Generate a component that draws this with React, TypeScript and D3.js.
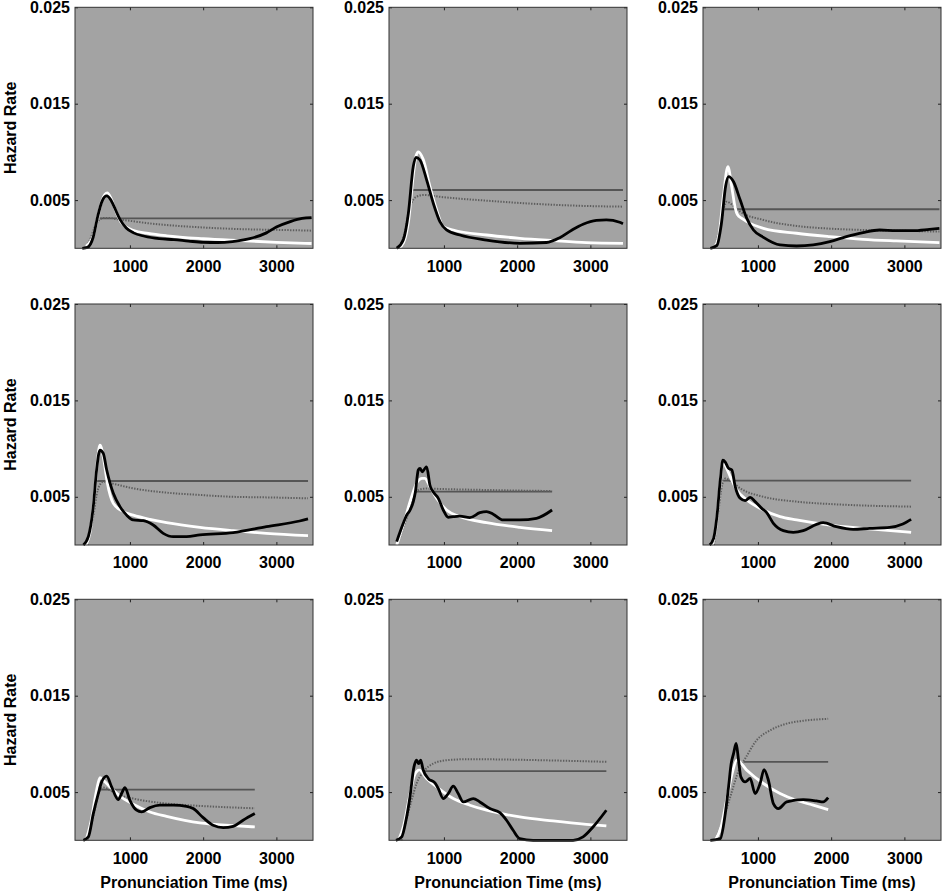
import React, { useEffect, useRef } from "react";
import * as d3 from "d3";

type Pt = [number, number]; // [time ms, hazard x 1e-3]

// ---- panel data (hazard in units of 0.001) ----
const p1Empirical: Pt[] = [[350,0],[420,0.1],[500,1.2],[560,3.3],[620,4.9],[682,5.43],[740,5.0],[773,4.5],[864,3.0],[950,2.1],[1050,1.6],[1200,1.25],[1400,1.0],[1600,0.9],[1800,0.75],[2000,0.62],[2200,0.6],[2400,0.7],[2636,1.0],[2864,1.6],[3000,2.2],[3200,2.8],[3350,3.1],[3480,3.18]];
const p1Fit: Pt[] = [[400,0.2],[500,1.3],[560,3.2],[620,5.0],[690,5.75],[740,5.2],[800,4.0],[870,2.8],[950,2.2],[1050,1.85],[1250,1.55],[1500,1.3],[2000,1.0],[2500,0.8],[3000,0.62],[3480,0.5]];
const p1Dotted: Pt[] = [[380,0],[450,0.8],[520,2.2],[590,3.0],[650,3.15],[720,3.15],[800,3.05],[1000,2.85],[1250,2.6],[1700,2.3],[2150,2.1],[2600,1.97],[3100,1.9],[3480,1.83]];
const p1Flat = [590, 3480, 3.1];

const p2Empirical: Pt[] = [[355,0],[445,0.86],[514,3.6],[582,8.5],[618,9.44],[673,9.16],[764,7.1],[855,4.67],[945,2.77],[1036,1.9],[1218,1.38],[1582,0.86],[2036,0.52],[2400,0.6],[2582,1.1],[2750,1.9],[2900,2.5],[3082,2.9],[3218,2.95],[3400,2.7],[3445,2.55]];
const p2Fit: Pt[] = [[380,0],[450,0.6],[520,3.0],[580,7.5],[620,9.6],[650,10.0],[718,9.2],[809,6.4],[900,4.0],[991,2.25],[1127,1.9],[1582,1.38],[2036,1.04],[2490,0.8],[2945,0.59],[3445,0.52]];
const p2Dotted: Pt[] = [[380,0],[460,1.5],[536,4.3],[627,5.36],[718,5.53],[991,5.3],[1582,4.94],[2264,4.6],[2945,4.39],[3445,4.32]];
const p2Flat = [582, 3445, 6.05];

const p3Empirical: Pt[] = [[350,0],[440,0.3],[500,2.5],[560,6.5],[599,7.43],[667,6.9],[758,5.0],[848,3.1],[939,1.9],[1075,1.14],[1302,0.35],[1528,0.24],[1755,0.35],[1982,0.69],[2208,1.21],[2435,1.63],[2662,1.9],[2888,1.83],[3115,1.83],[3342,1.97],[3478,2.07]];
const p3Fit: Pt[] = [[400,0],[470,1.5],[530,5.5],[590,8.47],[640,6.5],[690,4.2],[720,3.5],[780,3.1],[848,2.77],[1075,2.07],[1528,1.56],[1982,1.21],[2435,0.93],[2888,0.76],[3478,0.59]];
const p3Dotted: Pt[] = [[400,0],[486,2.2],[540,4.3],[576,4.84],[650,4.5],[758,3.8],[1075,2.94],[1528,2.32],[1982,2.04],[2435,1.9],[2888,1.83],[3478,1.73]];
const p3Flat = [545, 3478, 4.05];

const p4Empirical: Pt[] = [[364,0],[432,0.86],[500,4.0],[545,7.8],[591,9.85],[636,9.5],[682,7.8],[773,5.36],[864,3.98],[955,3.1],[1045,2.6],[1182,2.52],[1318,2.07],[1455,1.21],[1591,0.86],[1773,0.86],[1955,1.04],[2409,1.28],[2864,1.9],[3318,2.49],[3432,2.7]];
const p4Fit: Pt[] = [[400,0],[460,1.5],[520,5.5],[560,9.0],[591,10.37],[640,9.0],[690,6.5],[773,4.32],[909,3.46],[1045,3.1],[1273,2.66],[1500,2.32],[1955,1.83],[2409,1.49],[2864,1.21],[3432,0.97]];
const p4Dotted: Pt[] = [[420,0],[500,3.0],[560,5.7],[636,6.57],[800,6.3],[1045,5.88],[1500,5.43],[1955,5.19],[2409,5.0],[2864,4.94],[3432,4.84]];
const p4Flat = [545, 3432, 6.64];

const p5Empirical: Pt[] = [[355,0.35],[445,2.25],[491,3.1],[536,3.6],[582,4.5],[610,5.5],[650,7.78],[673,7.95],[705,7.6],[741,7.95],[764,8.1],[809,6.2],[855,5.5],[923,4.84],[991,3.63],[1059,2.87],[1127,2.94],[1218,3.0],[1355,2.84],[1491,3.35],[1582,3.46],[1673,3.2],[1809,2.6],[2036,2.6],[2264,2.77],[2477,3.63]];
const p5Fit: Pt[] = [[355,0],[450,2.2],[550,4.8],[640,6.6],[700,6.92],[740,6.9],[809,6.05],[900,4.84],[1036,3.63],[1218,2.94],[1582,2.32],[2036,1.83],[2477,1.49]];
const p5Dotted: Pt[] = [[400,0.8],[500,3.0],[580,5.0],[650,5.7],[750,5.85],[1000,5.8],[1500,5.72],[2000,5.65],[2477,5.6]];
const p5Flat = [627, 2477, 5.53];

const p6Empirical: Pt[] = [[341,0],[395,0.69],[440,2.94],[486,6.74],[522,8.8],[554,8.6],[599,7.95],[644,7.78],[690,6.05],[758,4.84],[826,4.6],[894,4.94],[962,4.5],[1052,3.8],[1120,3.35],[1211,2.25],[1347,1.49],[1483,1.31],[1619,1.49],[1800,2.14],[1891,2.32],[2072,1.9],[2299,1.63],[2526,1.73],[2798,1.83],[2979,2.18],[3092,2.66]];
const p6Fit: Pt[] = [[380,0],[430,2.0],[480,6.0],[522,8.64],[570,8.0],[622,7.1],[712,5.7],[848,4.67],[1075,3.63],[1302,2.94],[1528,2.6],[1982,2.07],[2435,1.73],[3092,1.31]];
const p6Dotted: Pt[] = [[400,0],[460,3.5],[510,6.2],[554,6.9],[650,6.5],[758,5.88],[1075,5.0],[1528,4.5],[1982,4.25],[2435,4.1],[3092,3.98]];
const p6Flat = [530, 3092, 6.67];

const p7Empirical: Pt[] = [[364,0],[432,0.35],[500,2.77],[568,4.85],[614,6.06],[682,6.65],[750,5.54],[841,4.22],[886,4.85],[932,5.47],[1000,4.15],[1091,3.12],[1159,2.94],[1273,3.39],[1409,3.64],[1591,3.64],[1773,3.53],[1864,3.29],[2000,2.35],[2136,1.56],[2273,1.32],[2409,1.45],[2545,2.08],[2705,2.77]];
const p7Fit: Pt[] = [[400,0],[470,2.0],[540,5.0],[591,6.5],[640,6.2],[727,5.54],[864,4.57],[1045,3.74],[1273,2.94],[1500,2.49],[1955,1.8],[2409,1.52],[2705,1.39]];
const p7Dotted: Pt[] = [[420,0],[500,2.5],[580,5.0],[636,5.47],[750,5.1],[864,4.67],[1045,4.33],[1500,3.81],[1955,3.57],[2705,3.32]];
const p7Flat = [591, 2705, 5.26];

const p8Empirical: Pt[] = [[345,0],[423,0.35],[482,2.08],[536,4.5],[591,7.62],[627,8.31],[655,7.96],[682,8.31],[718,7.27],[786,6.41],[877,5.95],[923,5.37],[991,4.33],[1059,4.85],[1127,5.61],[1195,4.85],[1264,3.98],[1400,4.33],[1491,3.98],[1627,3.29],[1764,2.87],[1855,2.08],[1945,1.04],[2036,0.17],[2218,0],[2764,0],[2900,0.35],[3036,1.38],[3218,3.12]];
const p8Fit: Pt[] = [[380,0],[450,1.5],[530,4.5],[600,6.8],[664,7.27],[764,6.41],[900,5.54],[1127,4.33],[1355,3.64],[1582,3.12],[2036,2.42],[2491,2.01],[2945,1.66],[3218,1.49]];
const p8Dotted: Pt[] = [[420,0],[482,2.0],[560,4.2],[627,5.89],[718,7.1],[855,7.96],[1036,8.31],[1355,8.42],[1809,8.38],[2491,8.28],[3218,8.14]];
const p8Flat = [627, 3218, 7.17];

const p9Empirical: Pt[] = [[350,0],[486,0.17],[554,2.77],[599,5.54],[635,7.96],[667,9.0],[703,10.04],[735,8.31],[767,6.58],[826,6.06],[894,6.41],[962,4.85],[1030,5.89],[1084,7.34],[1143,6.23],[1211,3.81],[1279,3.29],[1392,3.98],[1619,4.22],[1800,4.08],[1891,3.98],[1959,4.42]];
const p9Fit: Pt[] = [[418,0],[500,1.5],[580,4.5],[650,7.0],[712,8.31],[848,7.27],[1075,5.89],[1302,4.85],[1528,4.15],[1755,3.64],[1959,3.19]];
const p9Dotted: Pt[] = [[418,0],[520,2.0],[622,4.5],[758,7.62],[826,8.48],[984,10.4],[1166,11.4],[1392,12.1],[1619,12.4],[1959,12.6]];
const p9Flat = [803, 1959, 8.14];

const panels = [
  { empirical: p1Empirical, fit: p1Fit, dotted: p1Dotted, flat: p1Flat },
  { empirical: p2Empirical, fit: p2Fit, dotted: p2Dotted, flat: p2Flat },
  { empirical: p3Empirical, fit: p3Fit, dotted: p3Dotted, flat: p3Flat },
  { empirical: p4Empirical, fit: p4Fit, dotted: p4Dotted, flat: p4Flat },
  { empirical: p5Empirical, fit: p5Fit, dotted: p5Dotted, flat: p5Flat },
  { empirical: p6Empirical, fit: p6Fit, dotted: p6Dotted, flat: p6Flat },
  { empirical: p7Empirical, fit: p7Fit, dotted: p7Dotted, flat: p7Flat },
  { empirical: p8Empirical, fit: p8Fit, dotted: p8Dotted, flat: p8Flat },
  { empirical: p9Empirical, fit: p9Fit, dotted: p9Dotted, flat: p9Flat },
];

const xTicks = [1000, 2000, 3000];
const yTicks = [0.005, 0.015, 0.025];
const xDomain = [250, 3500];
const yDomain = [0, 0.025];

const App: React.FC = () => {
  const svgRef = useRef<SVGSVGElement>(null);

  useEffect(() => {
    if (!svgRef.current) return;
    const svg = d3.select(svgRef.current);
    svg.selectAll("*").remove();

    const width = 945;
    const height = 896;
    svg.attr("width", width).attr("height", height);

    const colLeft = [75, 389, 703];
    const rowTop = [7.3, 304, 599.3];
    const pw = 238;
    const ph = 241;
    const font = "'Liberation Sans', Arial, Helvetica, sans-serif";

    const x = d3.scaleLinear().domain(xDomain).range([0, pw]);
    const y = d3.scaleLinear().domain(yDomain).range([ph, 0]);

    const line = d3
      .line<Pt>()
      .x((d) => x(d[0]))
      .y((d) => y(d[1] / 1000))
      .curve(d3.curveMonotoneX);

    panels.forEach((p, i) => {
      const col = i % 3;
      const row = Math.floor(i / 3);
      const g = svg
        .append("g")
        .attr("transform", `translate(${colLeft[col]},${rowTop[row]})`);

      g.append("rect")
        .attr("width", pw)
        .attr("height", ph)
        .attr("fill", "#a3a3a3");

      // constant-hazard line
      g.append("line")
        .attr("x1", x(p.flat[0]))
        .attr("x2", x(p.flat[1]))
        .attr("y1", y(p.flat[2] / 1000))
        .attr("y2", y(p.flat[2] / 1000))
        .attr("stroke", "#555")
        .attr("stroke-width", 1.8);

      g.append("path")
        .attr("d", line(p.dotted) || "")
        .attr("fill", "none")
        .attr("stroke", "#5e5e5e")
        .attr("stroke-width", 2)
        .attr("stroke-dasharray", "1.4,1.4");

      g.append("path")
        .attr("d", line(p.fit) || "")
        .attr("fill", "none")
        .attr("stroke", "#fff")
        .attr("stroke-width", 2.8);

      g.append("path")
        .attr("d", line(p.empirical) || "")
        .attr("fill", "none")
        .attr("stroke", "#000")
        .attr("stroke-width", 2.8);

      // inner ticks on all four sides
      const bottom = g
        .append("g")
        .attr("transform", `translate(0,${ph})`)
        .call(
          d3
            .axisBottom(x)
            .tickValues(xTicks)
            .tickSizeInner(-3)
            .tickSizeOuter(0)
            .tickPadding(12)
            .tickFormat(d3.format("d") as any)
        );
      const left = g.append("g").call(
        d3
          .axisLeft(y)
          .tickValues(yTicks)
          .tickSizeInner(-3)
          .tickSizeOuter(0)
          .tickPadding(5)
          .tickFormat(d3.format(".3f") as any)
      );
      const top = g.append("g").call(
        d3.axisTop(x).tickValues(xTicks).tickSizeInner(-3).tickSizeOuter(0).tickFormat(() => "")
      );
      const right = g
        .append("g")
        .attr("transform", `translate(${pw},0)`)
        .call(
          d3.axisRight(y).tickValues(yTicks).tickSizeInner(-3).tickSizeOuter(0).tickFormat(() => "")
        );

      [bottom, left, top, right].forEach((a) => {
        a.select(".domain").remove();
        a.selectAll("line").attr("stroke", "#222").attr("stroke-width", 1);
        a.selectAll("text")
          .attr("fill", "#000")
          .style("font-family", font)
          .style("font-size", "16px")
          .style("font-weight", "bold");
      });

      g.append("rect")
        .attr("width", pw)
        .attr("height", ph)
        .attr("fill", "none")
        .attr("stroke", "#333")
        .attr("stroke-width", 1);

      if (col === 0) {
        svg
          .append("text")
          .attr("transform", `translate(16,${rowTop[row] + ph / 2}) rotate(-90)`)
          .attr("text-anchor", "middle")
          .style("font-family", font)
          .style("font-size", "16px")
          .style("font-weight", "bold")
          .text("Hazard Rate");
      }
      if (row === 2) {
        svg
          .append("text")
          .attr("x", colLeft[col] + pw / 2)
          .attr("y", 888)
          .attr("text-anchor", "middle")
          .style("font-family", font)
          .style("font-size", "16px")
          .style("font-weight", "bold")
          .text("Pronunciation Time (ms)");
      }
    });
  }, []);

  return (
    <div style={{ position: "absolute", left: 0, top: 0, width: 945, height: 896, background: "#fff" }}>
      <svg ref={svgRef} style={{ display: "block" }}></svg>
    </div>
  );
};

export default App;
